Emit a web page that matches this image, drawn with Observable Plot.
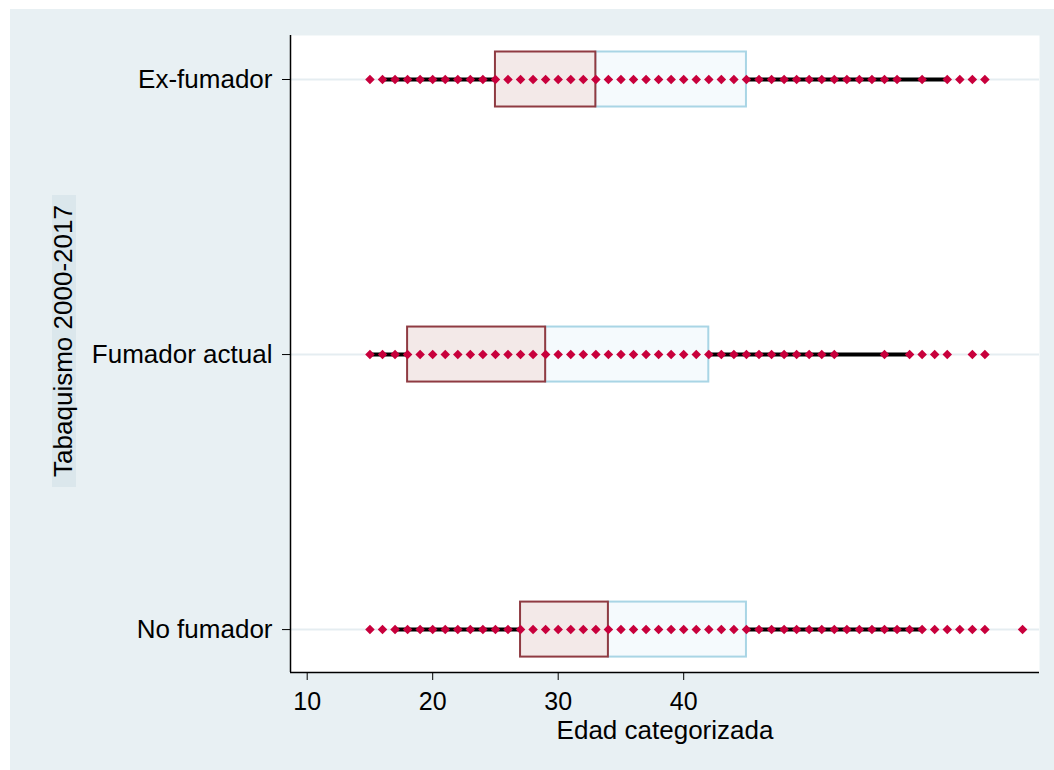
<!DOCTYPE html>
<html><head><meta charset="utf-8">
<script src="https://cdn.jsdelivr.net/npm/d3@7"></script>
<script src="https://cdn.jsdelivr.net/npm/@observablehq/plot@0.6"></script>
<style>
body{margin:0;background:#fff;}
#chart{position:absolute;left:10px;top:9px;}
</style></head><body><div id="chart"></div>
<script>
// categories, bottom to top
const categories = ["No fumador", "Fumador actual", "Ex-fumador"];
const lowerWhisker = [17, 15, 16];
const q1 = [27, 18, 25];
const median = [34, 29, 33];
const q3 = [45, 42, 45];
const upperWhisker = [59, 58, 61];
const noFumadorAges = [15,16,17,18,19,20,21,22,23,24,25,26,27,28,29,30,31,32,33,34,35,36,37,38,39,40,41,42,43,44,45,46,47,48,49,50,51,52,53,54,55,56,57,58,59,60,61,62,63,64,67];
const fumadorActualAges = [15,16,17,18,19,20,21,22,23,24,25,26,27,28,29,30,31,32,33,34,35,36,37,38,39,40,41,42,43,44,45,46,47,48,49,50,51,52,56,58,59,60,61,63,64];
const exFumadorAges = [15,16,17,18,19,20,21,22,23,24,25,26,27,28,29,30,31,32,33,34,35,36,37,38,39,40,41,42,43,44,45,46,47,48,49,50,51,52,53,54,55,56,57,59,61,62,63,64];
const xTicks = [10, 20, 30, 40];
const xLabel = "Edad categorizada";
const yLabel = "Tabaquismo 2000-2017";

const agesByCat = [noFumadorAges, fumadorActualAges, exFumadorAges];
const boxes = categories.map((c, i) => ({cat: c, idx: i, lo: lowerWhisker[i], q1: q1[i], med: median[i], q3: q3[i], hi: upperWhisker[i]}));
const dots = categories.flatMap((c, i) => agesByCat[i].map(a => ({idx: i, age: a})));
const idxs = categories.map((c, i) => i);

const xDomain = [8.67, 68.35];
const yDomain = [-0.156, 2.16];
const half = 0.1;

const plot = Plot.plot({
  width: 1044, height: 761,
  marginLeft: 280, marginRight: 15, marginTop: 26, marginBottom: 98,
  style: {background: "#e8f0f3", fontFamily: "'Liberation Sans', Arial, sans-serif", color: "#000"},
  x: {domain: xDomain},
  y: {domain: yDomain},
  marks: [
    Plot.frame({fill: "white", stroke: null}),
    Plot.ruleY(idxs, {y: d => d, stroke: "#e5edf1", strokeWidth: 2}),
    Plot.axisX({ticks: xTicks, tickSize: 8, tickPadding: 12, fontSize: 25, label: null, stroke: "#000"}),
    Plot.axisY({ticks: idxs, tickFormat: i => categories[i], tickSize: 8, tickPadding: 10, fontSize: 26, label: null}),
    Plot.ruleX([xDomain[0]], {stroke: "#000", strokeWidth: 1.5}),
    Plot.ruleY([yDomain[0]], {stroke: "#000", strokeWidth: 1.5}),
    Plot.ruleY(boxes, {x1: "lo", x2: "q1", y: "idx", stroke: "#000", strokeWidth: 4}),
    Plot.ruleY(boxes, {x1: "q3", x2: "hi", y: "idx", stroke: "#000", strokeWidth: 4}),
    Plot.rect(boxes, {x1: "med", x2: "q3", y1: d => d.idx - half, y2: d => d.idx + half, fill: "#f5fafd", stroke: "#a9d5e5", strokeWidth: 2}),
    Plot.rect(boxes, {x1: "q1", x2: "med", y1: d => d.idx - half, y2: d => d.idx + half, fill: "#f3e9e8", stroke: "#8f3b42", strokeWidth: 2}),
    Plot.dot(dots, {x: "age", y: "idx", symbol: "square", rotate: 45, r: 3.8, fill: "#c8003c", stroke: null}),
    Plot.text([xLabel], {frameAnchor: "bottom", dy: 66, lineAnchor: "bottom", fontSize: 26, fill: "#000"})
  ]
});
document.getElementById("chart").appendChild(plot);

const svg = d3.select(plot);
svg.append("rect").attr("x", 42).attr("y", 186).attr("width", 24).attr("height", 292).attr("fill", "#dbe7ec");
svg.append("text").attr("transform", "translate(62,332) rotate(-90)")
  .attr("text-anchor", "middle").attr("font-size", 26).attr("fill", "#000")
  .attr("font-family", "'Liberation Sans', Arial, sans-serif").text(yLabel);
</script></body></html>
